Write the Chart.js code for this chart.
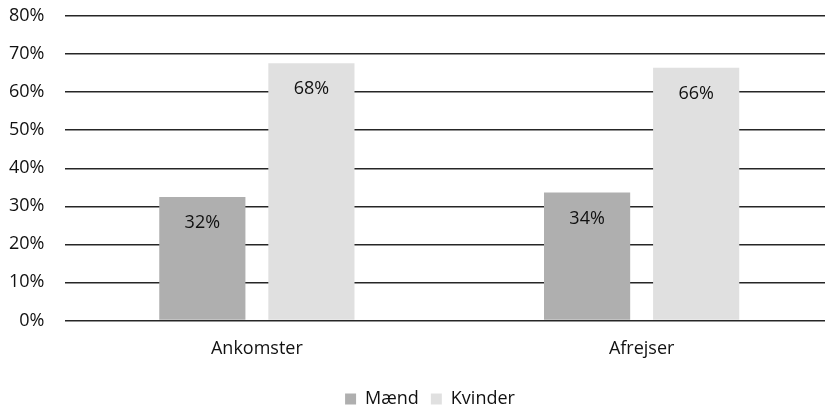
<!DOCTYPE html>
<html>
<head>
<meta charset="utf-8">
<script src="https://cdn.jsdelivr.net/npm/chart.js@4"></script>
<style>
  html, body { margin: 0; padding: 0; background: #fff; overflow: hidden; }
  #wrap { width: 834px; height: 407px; }
</style>
</head>
<body>
<div id="wrap"><canvas id="genderChart"></canvas></div>
<script>
const categories = ['Ankomster', 'Afrejser'];
const maend = [32.4, 33.6];
const kvinder = [67.6, 66.4];
const yTicks = [0, 10, 20, 30, 40, 50, 60, 70, 80];

const fontFamily = "'Open Sans', sans-serif";

// draws the percentage just inside the top of each bar
const barLabels = {
  id: 'barLabels',
  afterDatasetsDraw(chart) {
    const ctx = chart.ctx;
    ctx.save();
    ctx.font = '18px ' + fontFamily;
    ctx.fillStyle = '#111';
    ctx.textAlign = 'center';
    ctx.textBaseline = 'middle';
    chart.data.datasets.forEach((ds, i) => {
      chart.getDatasetMeta(i).data.forEach((bar, j) => {
        ctx.fillText(Math.round(ds.data[j]) + '%', bar.x, bar.y + 26);
      });
    });
    ctx.restore();
  }
};

// legend sits a bit right of the canvas centre in the original
const legendShift = {
  id: 'legendShift',
  afterLayout(chart) {
    chart.legend.left += 26;
  }
};

const ctx = document.getElementById('genderChart').getContext('2d');
const chart = new Chart(ctx, {
  type: 'bar',
  data: {
    labels: categories,
    datasets: [
      { label: 'Mænd', data: maend, backgroundColor: '#afafaf', barPercentage: 0.79, categoryPercentage: 0.567 },
      { label: 'Kvinder', data: kvinder, backgroundColor: '#e0e0e0', barPercentage: 0.79, categoryPercentage: 0.567 }
    ]
  },
  options: {
    responsive: true,
    maintainAspectRatio: false,
    animation: false,
    layout: { padding: { left: 0, top: 16, right: 0, bottom: -11 } },
    plugins: {
      legend: {
        position: 'bottom',
        labels: {
          font: { family: fontFamily, size: 18 },
          color: '#111',
          boxWidth: 11,
          boxHeight: 11,
          padding: 12
        }
      },
      tooltip: { enabled: false }
    },
    scales: {
      x: {
        grid: { display: false, drawTicks: false },
        border: { display: false },
        ticks: { font: { family: fontFamily, size: 18 }, color: '#111', padding: 18 }
      },
      y: {
        min: 0,
        max: 80,
        afterFit(scale) { scale.width = 64.5; },
        afterBuildTicks(scale) { scale.ticks = yTicks.map(v => ({ value: v })); },
        grid: { color: '#262626', lineWidth: 1.4, drawTicks: true, tickLength: 20, tickColor: 'rgba(0,0,0,0)' },
        border: { display: false },
        ticks: {
          font: { family: fontFamily, size: 18 },
          color: '#111',
          padding: 0,
          callback: v => v + '%'
        }
      }
    }
  },
  plugins: [barLabels, legendShift]
});
</script>
</body>
</html>
